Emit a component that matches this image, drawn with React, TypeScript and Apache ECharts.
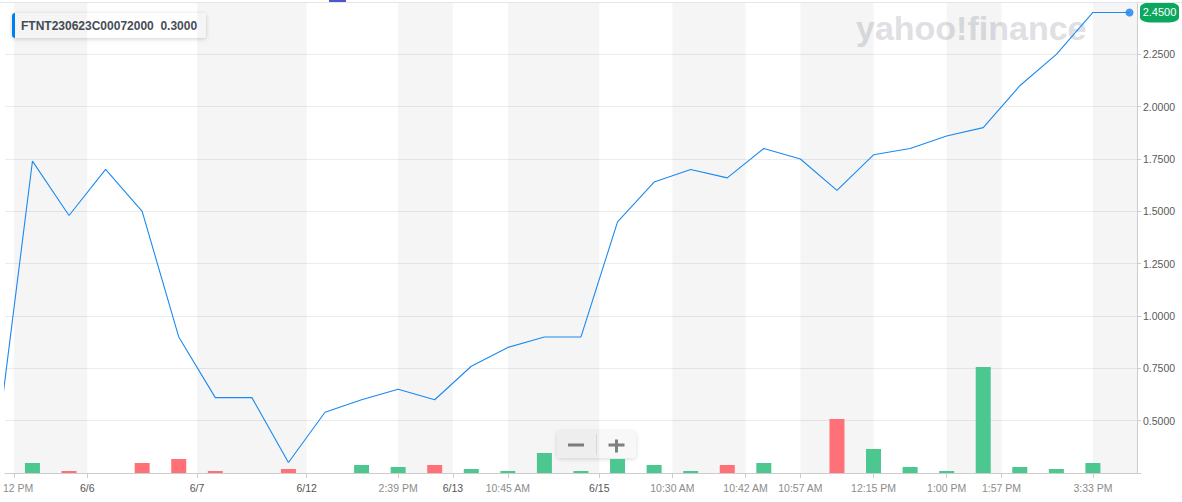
import React, { useEffect, useRef } from "react";
import * as echarts from "echarts";

// ---- data ----
const prices = [0.35, 1.74, 1.48, 1.70, 1.50, 0.90, 0.61, 0.61, 0.30, 0.54, 0.60, 0.65, 0.60, 0.76, 0.85, 0.90, 0.90, 1.45, 1.64, 1.70, 1.66, 1.80, 1.75, 1.60, 1.77, 1.80, 1.86, 1.90, 2.10, 2.25, 2.45, 2.45];
const volumes = [0, 5, 1, 0, 5, 7, 1, 0, 2, 0, 4, 3, 4, 2, 1, 10, 1, 7, 4, 1, 4, 5, 0, 27, 12, 3, 1, 53, 3, 2, 5, 0];
const tickPositions = [0.5, 2.5, 5.5, 8.5, 11, 12.5, 14, 16.5, 18.5, 20.5, 22, 24, 26, 27.5, 30];
const tickLabels = ["12 PM", "6/6", "6/7", "6/12", "2:39 PM", "6/13", "10:45 AM", "6/15", "10:30 AM", "10:42 AM", "10:57 AM", "12:15 PM", "1:00 PM", "1:57 PM", "3:33 PM"];
const dateLabels = ["6/6", "6/7", "6/12", "6/13", "6/15"];
const legendSymbol = "FTNT230623C00072000";
const legendValue = 0.3;
const watermark = "yahoo!finance";

const X_MIN = 0.2536;
const X_MAX = 31.205;
const FONT = "'Liberation Sans', Arial, Helvetica, sans-serif";

export default function App() {
  const ref = useRef<HTMLDivElement>(null);

  useEffect(() => {
    if (!ref.current) return;
    const chart = echarts.init(ref.current, null, { renderer: "svg" });

    const lineData = prices.map((p, i) => [i, p]);
    const volData = volumes.map((v, i) => ({
      value: [i, v],
      itemStyle: { color: i > 0 && prices[i] < prices[i - 1] ? "#ff7177" : "#4cc790" },
    }));
    const bands: any[] = [];
    for (let k = 0; k < tickPositions.length; k += 2) {
      const a = tickPositions[k];
      const b = k + 1 < tickPositions.length ? tickPositions[k + 1] : X_MAX;
      bands.push([{ xAxis: a }, { xAxis: b }]);
    }
    const last = prices.length - 1;

    const option: any = {
      animation: false,
      grid: { left: 2, right: 45, top: 2, bottom: 29, containLabel: false },
      xAxis: {
        type: "value",
        min: X_MIN,
        max: X_MAX,
        splitLine: { show: false },
        axisLine: { show: true, lineStyle: { color: "#cccccc", width: 1 } },
        axisTick: { show: true, length: 5, lineStyle: { color: "#cccccc" }, customValues: tickPositions },
        axisLabel: {
          customValues: tickPositions,
          margin: 9,
          fontFamily: FONT,
          fontSize: 10.5,
          formatter: (v: number) => {
            const idx = tickPositions.findIndex((t) => Math.abs(t - v) < 1e-6);
            if (idx < 0) return "";
            const lab = tickLabels[idx];
            if (idx === 0) return `{f|${lab}}`;
            return dateLabels.includes(lab) ? `{d|${lab}}` : `{t|${lab}}`;
          },
          rich: {
            d: { color: "#555555", fontSize: 10.5, fontFamily: FONT },
            t: { color: "#8c8c8c", fontSize: 10.5, fontFamily: FONT },
            f: { color: "#8c8c8c", fontSize: 10.5, fontFamily: FONT, padding: [0, 0, 0, 8] },
          },
        },
      },
      yAxis: [
        {
          type: "value",
          position: "right",
          min: 0.25,
          max: 2.5,
          interval: 0.25,
          axisLine: { show: true, lineStyle: { color: "#cccccc" } },
          axisTick: { show: true, length: 4, lineStyle: { color: "#cccccc" } },
          splitLine: { show: true, lineStyle: { color: "#ececec", width: 1 } },
          axisLabel: {
            margin: 6,
            color: "#5a5a5a",
            fontSize: 10.5,
            fontFamily: FONT,
            formatter: (v: number) => (v < 0.3 || v > 2.45 ? "" : v.toFixed(4)),
          },
        },
        {
          type: "value",
          min: 0,
          max: 235.5,
          show: false,
          splitLine: { show: false },
        },
      ],
      series: [
        {
          type: "bar",
          xAxisIndex: 0,
          yAxisIndex: 1,
          barWidth: 15,
          data: volData,
          z: 2,
          markArea: {
            silent: true,
            itemStyle: { color: "rgba(0,0,0,0.038)" },
            data: bands,
          },
        },
        {
          type: "line",
          data: lineData,
          showSymbol: false,
          symbol: "none",
          clip: true,
          lineStyle: { color: "#1a8af0", width: 1.1 },
          z: 5,
        },
        {
          type: "scatter",
          data: [[last, prices[last]]],
          symbolSize: 8,
          itemStyle: { color: "#1282f0" },
          z: 6,
          clip: false,
          markPoint: {
            symbol: "roundRect",
            symbolSize: [39, 20],
            symbolOffset: [30, 0],
            itemStyle: { color: "#0ba75f" },
            label: {
              show: true,
              color: "#ffffff",
              fontSize: 11,
              fontFamily: FONT,
              formatter: (p: any) => Number(p.value).toFixed(4),
            },
            data: [{ coord: [last, prices[last]], value: prices[last] }],
          },
        },
      ],
      graphic: [
        { type: "rect", shape: { x: 0, y: 2, width: 1182, height: 1 }, style: { fill: "#e4e4ec" }, silent: true, z: 10 },
        { type: "rect", shape: { x: 329, y: 0, width: 17, height: 2 }, style: { fill: "#4f56c8" }, silent: true, z: 11 },
        {
          type: "text",
          x: 856,
          y: 11,
          z: 1,
          silent: true,
          style: {
            text: watermark,
            fill: "#dfe0e3",
            font: `bold 34px ${FONT}`,
            textVerticalAlign: "top",
          },
        },
        {
          type: "group",
          x: 12,
          y: 13,
          z: 20,
          children: [
            {
              type: "rect",
              shape: { x: 0, y: 0, width: 194, height: 25, r: 3 },
              style: { fill: "#ffffff", shadowBlur: 4, shadowColor: "rgba(0,0,0,0.18)", shadowOffsetY: 1 },
            },
            { type: "rect", shape: { x: 0, y: 0, width: 3, height: 25, r: [3, 0, 0, 3] }, style: { fill: "#0081f2" } },
            {
              type: "text",
              x: 9,
              y: 12.5,
              style: {
                text: `${legendSymbol}  ${legendValue.toFixed(4)}`,
                fill: "#464e56",
                font: `bold 12px ${FONT}`,
                textVerticalAlign: "middle",
              },
            },
          ],
        },
        {
          type: "group",
          x: 557,
          y: 431,
          z: 20,
          children: [
            {
              type: "rect",
              shape: { x: 0, y: 0, width: 79, height: 27, r: 3 },
              style: { fill: "#f8f8f8", shadowBlur: 4, shadowColor: "rgba(0,0,0,0.15)", shadowOffsetY: 1 },
            },
            { type: "rect", shape: { x: 39, y: 3, width: 1, height: 21 }, style: { fill: "#e2e2e2" } },
            { type: "rect", shape: { x: 11, y: 12.5, width: 16, height: 3 }, style: { fill: "#808080" } },
            { type: "rect", shape: { x: 51.5, y: 12.5, width: 16, height: 3 }, style: { fill: "#808080" } },
            { type: "rect", shape: { x: 58, y: 8.5, width: 3, height: 13 }, style: { fill: "#808080" } },
          ],
        },
      ],
    };

    chart.setOption(option);
    return () => chart.dispose();
  }, []);

  return (
    <div
      ref={ref}
      style={{ position: "fixed", left: 0, top: 0, width: 1182, height: 502, background: "#ffffff" }}
    />
  );
}
